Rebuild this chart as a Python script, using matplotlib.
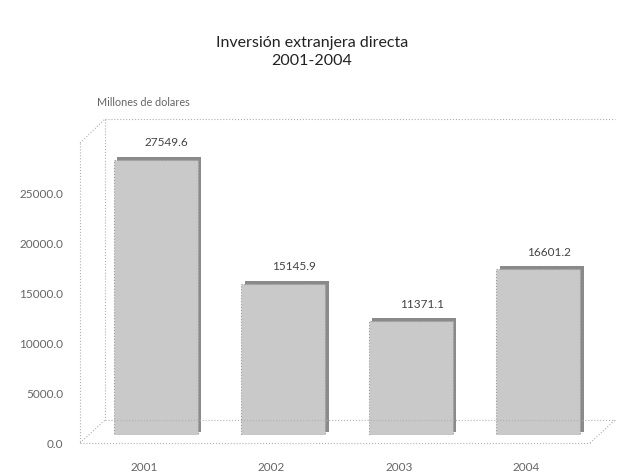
import matplotlib
matplotlib.use('Agg')
import matplotlib.pyplot as plt
import matplotlib.transforms as mtransforms
from matplotlib.lines import Line2D

plt.rcParams['font.family'] = ['Lato', 'DejaVu Sans']

years = ['2001', '2002', '2003', '2004']
inversion = [27549.6, 15145.9, 11371.1, 16601.2]
ticks = [0, 5000, 10000, 15000, 20000, 25000]

W, H = 624, 474
fig = plt.figure(figsize=(W / 100, H / 100), dpi=100)

# front plane of the pseudo 3d frame (pixels from top-left)
fl, fr, ft, fb = 80, 590, 143, 443
depth_x, depth_y = 25, 23   # back wall offset
bar_dx, bar_dy = 12, 8      # bars stand half way in

def px(x, y):
    return x / W, 1 - y / H

ax = fig.add_axes([fl / W, 1 - fb / H, (fr - fl) / W, (fb - ft) / H])
ax.set_xlim(-0.5, len(years) - 0.5)
ax.set_ylim(0, 30000)
ax.set_yticks(ticks)
ax.set_yticklabels(['%.1f' % t for t in ticks], fontsize=8.5, color='#666666')
ax.set_xticks(range(len(years)))
ax.set_xticklabels(years, fontsize=8.5, color='#666666')
ax.tick_params(length=0, pad=12)
ax.tick_params(axis='x', pad=14)
for s in ax.spines.values():
    s.set_visible(False)
ax.patch.set_alpha(0)

# bars, in an axes nudged into the box
bx = fig.add_axes([(fl + bar_dx) / W, 1 - (fb - bar_dy) / H, (fr - fl) / W, (fb - ft) / H])
bx.set_xlim(-0.5, len(years) - 0.5)
bx.set_ylim(0, 30000)
bx.axis('off')

shift = mtransforms.ScaledTranslation(0.035, 0.03, fig.dpi_scale_trans)
xs = list(range(len(years)))
bx.bar(xs, inversion, width=0.66, color='#8a8a8a', transform=bx.transData + shift, zorder=2)
bx.bar(xs, inversion, width=0.66, color='#c9c9c9', edgecolor='#9a9a9a',
       linestyle=':', linewidth=0.8, zorder=3)
for x, v in zip(xs, inversion):
    bx.annotate('%.1f' % v, (x, v), xytext=(8, 8), textcoords='offset points',
                ha='center', va='bottom', fontsize=8.5, color='#444444')

# dotted box: front left edge, back wall and floor
ls = dict(color='#b0b0b0', linestyle=':', linewidth=0.8)
bl, br, bt, bb = fl + depth_x, fr + depth_x, ft - depth_y - 1, fb - depth_y
segs = [
    [(fl, ft), (fl, fb)],
    [(fl, fb), (fr, fb)],
    [(bl, bt), (bl, bb)],
    [(bl, bt), (br, bt)],
    [(bl, bb), (br, bb)],
    [(fl, ft), (bl, bt)],
    [(fl, fb), (bl, bb)],
    [(fr, fb), (br, bb)],
]
for (x0, y0), (x1, y1) in segs:
    p0, p1 = px(x0, y0), px(x1, y1)
    fig.add_artist(Line2D([p0[0], p1[0]], [p0[1], p1[1]], transform=fig.transFigure, **ls))

fig.text(*px(97, 103), 'Millones de dolares', fontsize=7.8, color='#666666', va='center')
fig.text(0.5, 1 - 52 / H, 'Inversión extranjera directa\n2001-2004', ha='center',
         va='center', fontsize=11.5, color='#222222', linespacing=1.4)

fig.savefig('out.png', dpi=100)
